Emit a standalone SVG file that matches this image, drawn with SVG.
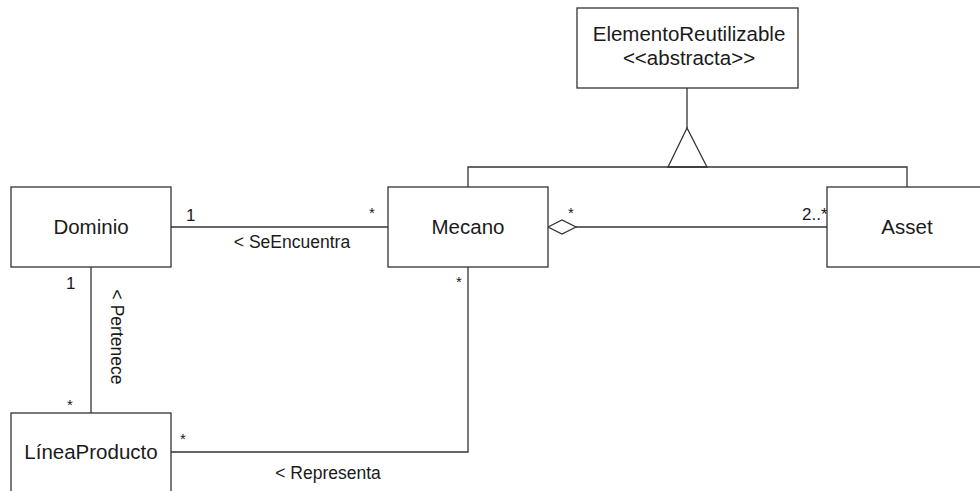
<svg xmlns="http://www.w3.org/2000/svg" width="980" height="491" viewBox="0 0 980 491">
<style>
.box{fill:#fff;stroke:#333;stroke-width:1.3}
.ln{fill:none;stroke:#333;stroke-width:1.3}
text{font-family:"Liberation Sans",Arial,sans-serif;fill:#1a1a1a}
.nm{font-size:20.5px;text-anchor:middle}
.lb{font-size:17.5px;text-anchor:middle}
.mu{font-size:17px}
.st{font-size:15px}
</style>
<rect width="980" height="491" fill="#fff"/>
<g id="connectors">
<polyline class="ln" points="687,88 687,128"/>
<polygon class="ln" points="687,128 668,167 707,167" fill="#fff"/>
<polyline class="ln" points="468,187 468,167 907,167 907,187"/>
<line class="ln" x1="171" y1="227" x2="388" y2="227"/>
<polyline class="ln" points="576,227 827,227"/>
<polygon class="ln" points="548,227 562,220 576,227 562,234" fill="#fff"/>
<line class="ln" x1="91" y1="267" x2="91" y2="413"/>
<polyline class="ln" points="468,267 468,452 171,452"/>
<text class="mu" x="186" y="221">1</text>
<text class="st" x="369" y="218">*</text>
<text class="lb" x="292" y="248">&lt; SeEncuentra</text>
<text class="st" x="568" y="218">*</text>
<text class="mu" x="802" y="220">2..*</text>
<text class="mu" x="66" y="289">1</text>
<text class="st" x="67" y="410">*</text>
<text class="lb" transform="translate(111,337) rotate(90)">&lt; Pertenece</text>
<text class="st" x="456" y="287">*</text>
<text class="st" x="180" y="444">*</text>
<text class="lb" x="328" y="479">&lt; Representa</text>
</g>
<g id="ElementoReutilizable">
<rect class="box" x="577" y="8" width="221" height="80"/>
<text class="nm" x="689" y="41">ElementoReutilizable</text>
<text class="nm" x="689" y="65">&lt;&lt;abstracta&gt;&gt;</text>
</g>
<g id="Dominio">
<rect class="box" x="11" y="187" width="160" height="80"/>
<text class="nm" x="91" y="234">Dominio</text>
</g>
<g id="Mecano">
<rect class="box" x="388" y="187" width="160" height="80"/>
<text class="nm" x="468" y="234">Mecano</text>
</g>
<g id="Asset">
<rect class="box" x="827" y="187" width="170" height="80"/>
<text class="nm" x="907" y="234">Asset</text>
</g>
<g id="LineaProducto">
<rect class="box" x="11" y="413" width="160" height="90"/>
<text class="nm" x="91" y="459">LíneaProducto</text>
</g>
</svg>
